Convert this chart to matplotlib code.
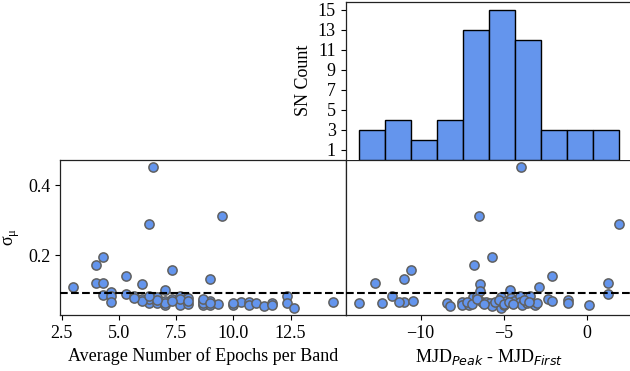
import matplotlib
matplotlib.use("Agg")
import matplotlib.pyplot as plt
import numpy as np

plt.rcParams['font.family'] = ['Liberation Serif', 'DejaVu Serif']
plt.rcParams['mathtext.fontset'] = 'dejavusans'

# Left panel: average number of epochs per band vs sigma_mu
epochs = [3.0, 4.0, 4.0, 4.33, 4.33, 4.33, 4.67, 4.67, 4.67, 5.33,
          5.33, 5.67, 6.0, 6.0, 6.33, 6.33, 6.33, 6.5, 6.67, 6.67,
          7.0, 7.0, 7.0, 7.33, 7.33, 7.67, 7.67, 7.67, 8.0, 8.0,
          8.67, 8.67, 9.0, 9.0, 9.0, 9.33, 9.5, 10.0, 10.33, 10.67,
          10.67, 11.0, 11.33, 11.67, 11.67, 12.33, 12.33, 12.67, 14.33, 8.67,
          6.33, 7.0, 7.67, 6.67, 8.67, 9.0, 6.0, 5.67, 7.33, 6.33,
          8.0, 10.0]
sigma_left = [0.109, 0.172, 0.121, 0.196, 0.122, 0.086, 0.095, 0.084, 0.067, 0.141,
              0.091, 0.084, 0.118, 0.075, 0.289, 0.070, 0.063, 0.454, 0.081, 0.063,
              0.101, 0.070, 0.058, 0.158, 0.075, 0.084, 0.069, 0.058, 0.079, 0.062,
              0.070, 0.059, 0.132, 0.070, 0.058, 0.060, 0.312, 0.058, 0.067, 0.067,
              0.059, 0.064, 0.056, 0.063, 0.058, 0.083, 0.063, 0.050, 0.067, 0.063,
              0.076, 0.063, 0.076, 0.073, 0.075, 0.063, 0.070, 0.079, 0.069, 0.083,
              0.070, 0.063]

# Right panel: MJD_peak - MJD_first vs sigma_mu
mjd_diff = [-13.73, -12.73, -12.30, -11.74, -11.02, -11.02, -10.55, -10.46, -8.42, -8.26,
            -7.54, -7.54, -7.11, -6.85, -6.81, -6.61, -6.47, -6.41, -6.41, -6.29,
            -6.09, -5.81, -5.71, -5.69, -5.19, -5.15, -4.99, -4.85, -4.61, -4.55,
            -4.41, -4.05, -4.03, -3.95, -3.89, -3.61, -3.41, -3.29, -3.15, -3.01,
            -2.87, -2.34, -2.12, -2.12, -1.15, -1.15, 0.12, 1.28, 1.28, 1.92,
            -11.3, -7.2, -6.9, -6.6, -6.2, -5.5, -5.3, -5.0, -4.7, -4.45,
            -3.8, -3.5]
sigma_right = [0.064, 0.121, 0.065, 0.083, 0.132, 0.067, 0.158, 0.070, 0.064, 0.055,
               0.067, 0.058, 0.058, 0.080, 0.172, 0.084, 0.312, 0.118, 0.098, 0.067,
               0.067, 0.063, 0.196, 0.056, 0.080, 0.050, 0.058, 0.070, 0.101, 0.079,
               0.069, 0.084, 0.067, 0.454, 0.059, 0.063, 0.084, 0.063, 0.059, 0.063,
               0.109, 0.075, 0.141, 0.069, 0.073, 0.063, 0.059, 0.122, 0.091, 0.289,
               0.066, 0.066, 0.062, 0.075, 0.062, 0.066, 0.072, 0.062, 0.066, 0.060,
               0.072, 0.066]

threshold = 0.094
n_bins = 10
hist_yticks = [1, 3, 5, 7, 9, 11, 13, 15]

color = '#6495ED'

fig = plt.figure(figsize=(6.3, 3.71), dpi=100)
W, H = 630, 371
def box(x0, y0, x1, y1):
    return [x0 / W, 1 - y1 / H, (x1 - x0) / W, (y1 - y0) / H]

ax_l = fig.add_axes(box(60, 159.5, 345.5, 315))
ax_r = fig.add_axes(box(345.5, 159.5, 632, 315), sharey=ax_l)
ax_h = fig.add_axes(box(345.5, 2, 632, 159.5), sharex=ax_r)

sc_kw = dict(s=44, c=color, edgecolors='#606060', linewidths=1.1, zorder=3)
ax_l.scatter(epochs, sigma_left, **sc_kw)
ax_r.scatter(mjd_diff, sigma_right, **sc_kw)
for ax in (ax_l, ax_r):
    ax.axhline(threshold, color='black', ls='--', lw=1.5, zorder=4)

ax_h.hist(mjd_diff, bins=n_bins, color=color, edgecolor='black', linewidth=1.0)
ax_h.set_yticks(hist_yticks)
ax_h.set_ylabel('SN Count', fontsize=13)
ax_h.tick_params(axis='x', which='both', bottom=False, labelbottom=False)
ax_h.spines['bottom'].set_visible(False)

ax_l.set_xticks([2.5, 5.0, 7.5, 10.0, 12.5])
ax_l.set_yticks([0.2, 0.4])
ax_l.set_xlabel('Average Number of Epochs per Band', fontsize=13)
ax_l.set_ylabel('σ$_\\mathregular{μ}$', fontsize=13)

ax_r.set_xticks([-10, -5, 0])
ax_r.set_xlabel('MJD$_{Peak}$ - MJD$_{First}$', fontsize=13)
ax_r.tick_params(axis='y', left=False, labelleft=False)

for ax in (ax_l, ax_r, ax_h):
    ax.tick_params(labelsize=13, direction='out', length=3.5, width=0.8)
    for sp in ax.spines.values():
        sp.set_linewidth(0.9)
        sp.set_color('#222222')

fig.savefig('out.png', dpi=100)
